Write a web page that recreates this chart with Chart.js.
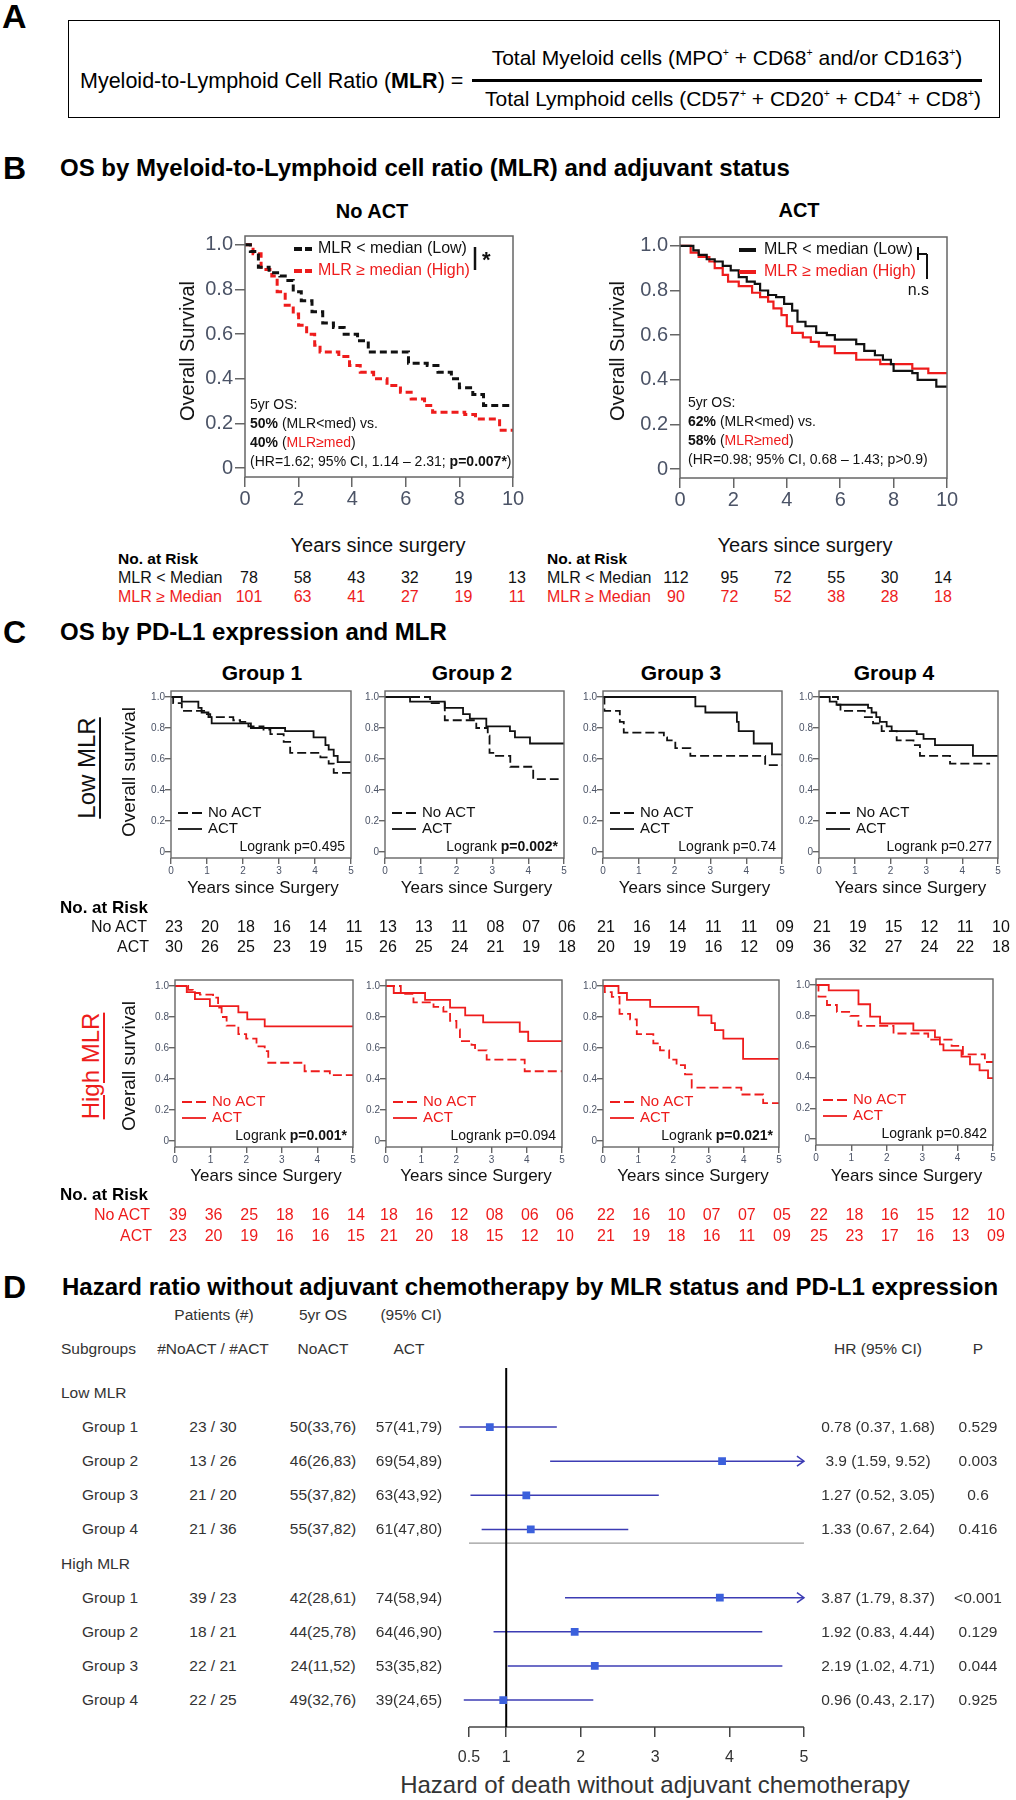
<!DOCTYPE html>
<html>
<head>
<meta charset="utf-8">
<title>MLR survival figure</title>
<script src="https://cdn.jsdelivr.net/npm/chart.js@4.4.1/dist/chart.umd.min.js"></script>
<style>
  body { margin: 0; background: #fff; }
  #page { position: relative; width: 1016px; height: 1800px; overflow: hidden; background: #fff;
          font-family: "Liberation Sans", Arial, Helvetica, sans-serif; color: #111; }
  .t { position: absolute; white-space: nowrap; line-height: 1; }
  #page canvas { position: absolute; }
  sup { font-size: 0.5em; vertical-align: 0; position: relative; top: -0.9em; }
</style>
</head>
<body>
<div id="page"></div>
<script>
// ---------- data ----------
const bYears = [0, 2, 4, 6, 8, 10];
const cYears = [0, 1, 2, 3, 4, 5];
const survTicks = [0, 0.2, 0.4, 0.6, 0.8, 1];
const hrTicks = [0.5, 1, 2, 3, 4, 5];

// panel B curves, [years, survival]
const bNoActLow = [[0,1],[0.2,0.97],[0.5,0.90],[0.9,0.875],[1.3,0.86],[1.6,0.84],[1.8,0.79],[2.1,0.75],[2.5,0.70],[2.9,0.65],[3.3,0.63],[3.7,0.60],[4.2,0.57],[4.6,0.52],[6.1,0.47],[6.8,0.46],[7.2,0.43],[7.7,0.40],[8.0,0.36],[8.5,0.33],[8.9,0.28],[10,0.28]];
const bNoActHigh = [[0,1],[0.3,0.96],[0.6,0.89],[1.0,0.86],[1.2,0.79],[1.5,0.73],[1.8,0.69],[2.0,0.64],[2.3,0.60],[2.6,0.55],[2.8,0.52],[3.5,0.50],[3.9,0.46],[4.3,0.43],[4.8,0.40],[5.3,0.37],[5.8,0.34],[6.2,0.31],[6.7,0.28],[7.0,0.25],[8.2,0.24],[8.6,0.22],[9.5,0.17],[10,0.17]];
const bActLow = [[0,1],[0.3,1],[0.5,0.98],[0.7,0.96],[1.0,0.94],[1.3,0.93],[1.6,0.91],[1.9,0.89],[2.2,0.86],[2.5,0.84],[2.8,0.83],[3.0,0.80],[3.3,0.78],[3.6,0.77],[3.9,0.74],[4.2,0.71],[4.4,0.66],[4.7,0.64],[5.1,0.61],[5.5,0.60],[5.8,0.58],[6.6,0.56],[6.9,0.53],[7.3,0.51],[7.6,0.49],[7.9,0.47],[8.0,0.44],[8.7,0.43],[8.9,0.40],[9.6,0.37],[10,0.37]];
const bActHigh = [[0,1],[0.4,0.97],[0.7,0.95],[1.1,0.93],[1.3,0.90],[1.6,0.87],[1.8,0.84],[2.2,0.82],[2.7,0.79],[3.0,0.77],[3.3,0.75],[3.5,0.72],[3.8,0.69],[4.0,0.64],[4.2,0.61],[4.6,0.59],[4.9,0.57],[5.2,0.55],[5.8,0.52],[6.6,0.49],[7.5,0.47],[8.7,0.45],[9.3,0.43],[10,0.43]];
const bRiskNoActLow = [78, 58, 43, 32, 19, 13];
const bRiskNoActHigh = [101, 63, 41, 27, 19, 11];
const bRiskActLow = [112, 95, 72, 55, 30, 14];
const bRiskActHigh = [90, 72, 52, 38, 28, 18];
const bNoteNoAct = [[['5yr OS:','']], [['50%','b'],[' (MLR<med) vs.','']], [['40%','b'],[' (',''],['MLR≥med','r'],[')','']], [['(HR=1.62; 95% CI, 1.14 – 2.31; ',''],['p=0.007*','b'],[')','']]];
const bNoteAct = [[['5yr OS:','']], [['62%','b'],[' (MLR<med) vs.','']], [['58%','b'],[' (',''],['MLR≥med','r'],[')','']], [['(HR=0.98; 95% CI, 0.68 – 1.43; p>0.9)','']]];

// panel C curves per group (1..4), [years, survival]
const cLowNoAct = [
  [[0,1],[0.06,0.96],[0.3,0.91],[0.95,0.89],[1.09,0.87],[1.73,0.85],[1.92,0.84],[2.15,0.81],[2.57,0.79],[2.76,0.76],[3.13,0.71],[3.31,0.64],[4.15,0.61],[4.38,0.57],[4.52,0.51],[5,0.51]],
  [[0,1],[1.26,0.96],[1.67,0.85],[2.55,0.80],[2.87,0.75],[2.92,0.64],[3.1,0.62],[3.5,0.55],[4.14,0.47],[4.85,0.47]],
  [[0,1],[0.04,0.91],[0.47,0.84],[0.58,0.77],[1.7,0.74],[1.79,0.72],[2.02,0.67],[2.44,0.62],[4.53,0.56],[5,0.56]],
  [[0,1],[0.53,0.95],[0.6,0.91],[1.28,0.87],[1.51,0.83],[1.75,0.78],[2.17,0.72],[2.64,0.69],[2.82,0.62],[3.66,0.57],[4.78,0.57]]
];
const cLowAct = [
  [[0,1],[0.3,0.97],[0.76,0.93],[0.85,0.90],[1.04,0.87],[1.13,0.83],[2.22,0.80],[3.17,0.78],[3.96,0.74],[4.29,0.69],[4.38,0.66],[4.52,0.62],[4.63,0.58],[5,0.58]],
  [[0,1],[0.7,0.97],[1.67,0.93],[2.18,0.89],[2.37,0.86],[2.83,0.81],[3.49,0.78],[3.63,0.74],[4.05,0.70],[5,0.70]],
  [[0,1],[2.58,0.94],[2.86,0.90],[3.74,0.84],[3.79,0.78],[4.21,0.70],[4.72,0.63],[5,0.63]],
  [[0,1],[0.3,0.97],[0.49,0.95],[1.37,0.93],[1.47,0.90],[1.6,0.87],[1.7,0.84],[1.89,0.81],[2.03,0.78],[2.73,0.76],[2.92,0.73],[3.24,0.69],[4.3,0.62],[5,0.62]]
];
const cHighNoAct = [
  [[0,1],[0.37,0.975],[0.5,0.955],[0.7,0.945],[1.07,0.925],[1.21,0.86],[1.31,0.80],[1.45,0.745],[1.78,0.69],[2.0,0.66],[2.29,0.61],[2.52,0.58],[2.62,0.505],[3.64,0.45],[4.35,0.425],[5,0.425]],
  [[0,1],[0.42,0.95],[0.78,0.895],[1.35,0.865],[1.63,0.835],[1.82,0.775],[2.0,0.72],[2.1,0.645],[2.43,0.62],[2.53,0.585],[2.86,0.525],[3.94,0.45],[5,0.45]],
  [[0,1],[0.05,0.96],[0.25,0.93],[0.47,0.82],[0.77,0.785],[0.96,0.69],[1.43,0.63],[1.62,0.585],[1.88,0.525],[2.09,0.49],[2.33,0.43],[2.52,0.345],[3.93,0.30],[4.55,0.245],[5,0.245]],
  [[0,1],[0.07,0.925],[0.31,0.87],[0.59,0.825],[0.97,0.80],[1.2,0.735],[2.19,0.685],[3.17,0.645],[3.83,0.605],[4.15,0.55],[4.77,0.50],[5,0.50]]
];
const cHighAct = [
  [[0,1],[0.33,0.96],[0.56,0.915],[0.98,0.87],[1.78,0.83],[2.03,0.785],[2.52,0.74],[5,0.74]],
  [[0,1],[0.22,0.955],[1.11,0.91],[1.82,0.86],[2.25,0.81],[2.76,0.765],[3.8,0.705],[4.04,0.645],[5,0.645]],
  [[0,1],[0.44,0.955],[0.68,0.91],[1.34,0.865],[2.71,0.81],[3.08,0.76],[3.18,0.715],[3.42,0.66],[3.98,0.53],[5,0.53]],
  [[0,1],[0.36,0.965],[1.2,0.875],[1.53,0.795],[1.81,0.75],[2.75,0.705],[3.36,0.66],[3.5,0.615],[3.6,0.575],[4.11,0.535],[4.35,0.485],[4.62,0.445],[4.86,0.395],[5,0.395]]
];
const cLowP = ['p=0.495', 'p=0.002*', 'p=0.74', 'p=0.277'];
const cHighP = ['p=0.001*', 'p=0.094', 'p=0.021*', 'p=0.842'];
const cRiskLowNoAct = [['23','20','18','16','14','11'], ['13','13','11','08','07','06'], ['21','16','14','11','11','09'], ['21','19','15','12','11','10']];
const cRiskLowAct = [['30','26','25','23','19','15'], ['26','25','24','21','19','18'], ['20','19','19','16','12','09'], ['36','32','27','24','22','18']];
const cRiskHighNoAct = [['39','36','25','18','16','14'], ['18','16','12','08','06','06'], ['22','16','10','07','07','05'], ['22','18','16','15','12','10']];
const cRiskHighAct = [['23','20','19','16','16','15'], ['21','20','18','15','12','10'], ['21','19','18','16','11','09'], ['25','23','17','16','13','09']];

// panel D forest plot
const dGroups = ['Group 1', 'Group 2', 'Group 3', 'Group 4'];
const dPatients = ['23 / 30', '13 / 26', '21 / 20', '21 / 36', '39 / 23', '18 / 21', '22 / 21', '22 / 25'];
const dOsNoAct = ['50(33,76)', '46(26,83)', '55(37,82)', '55(37,82)', '42(28,61)', '44(25,78)', '24(11,52)', '49(32,76)'];
const dOsAct = ['57(41,79)', '69(54,89)', '63(43,92)', '61(47,80)', '74(58,94)', '64(46,90)', '53(35,82)', '39(24,65)'];
const dHr = [0.78, 3.9, 1.27, 1.33, 3.87, 1.92, 2.19, 0.96];
const dLo = [0.37, 1.59, 0.52, 0.67, 1.79, 0.83, 1.02, 0.43];
const dHi = [1.68, 9.52, 3.05, 2.64, 8.37, 4.44, 4.71, 2.17];
const dP = ['0.529', '0.003', '0.6', '0.416', '<0.001', '0.129', '0.044', '0.925'];

// ---------- helpers ----------
const FONT = '"Liberation Sans", Arial, Helvetica, sans-serif';
const RED = '#ee1c1c', INK = '#111', TICK_TXT = '#4b5366';
Chart.defaults.font.family = FONT;
const page = document.getElementById('page');

function txt(x, y, html, css, anchor) {
  const d = document.createElement('div');
  d.className = 't';
  d.innerHTML = html;
  d.style.left = x + 'px';
  d.style.top = y + 'px';
  const tx = anchor === 'c' ? '-50%' : anchor === 'r' ? '-100%' : '0';
  d.style.transform = `translate(${tx},-50%)`;
  if (css) d.style.cssText += css;
  page.appendChild(d);
  return d;
}

function seg(ctx, x1, y1, x2, y2, color, w, dash) {
  ctx.save();
  ctx.beginPath();
  ctx.setLineDash(dash || []);
  ctx.strokeStyle = color;
  ctx.lineWidth = w;
  ctx.moveTo(x1, y1);
  ctx.lineTo(x2, y2);
  ctx.stroke();
  ctx.restore();
}

// parts: [text, style] with style containing 'b' (bold) and/or 'r' (red)
function runs(ctx, x, y, parts, size, color, align) {
  ctx.save();
  ctx.textBaseline = 'middle';
  ctx.textAlign = 'left';
  const fontOf = p => (p[1].includes('b') ? 'bold ' : '') + size + 'px ' + FONT;
  if (align === 'right') {
    let w = 0;
    for (const p of parts) { ctx.font = fontOf(p); w += ctx.measureText(p[0]).width; }
    x -= w;
  }
  for (const p of parts) {
    ctx.font = fontOf(p);
    ctx.fillStyle = p[1].includes('r') ? RED : color;
    ctx.fillText(p[0], x, y);
    x += ctx.measureText(p[0]).width;
  }
  ctx.restore();
}

// Kaplan-Meier panel; box = chart area in page pixels
function km(box, o, curves, deco) {
  const [bx, by, bw, bh] = box;
  const cv = document.createElement('canvas');
  const left = bx - o.yAxisW, top = by - o.padTop;
  cv.width = o.yAxisW + bw + o.padRight;
  cv.height = o.padTop + bh + o.xAxisH;
  cv.style.left = left + 'px';
  cv.style.top = top + 'px';
  page.appendChild(cv);
  const ext = o.padY / (bh - 2 * o.padY);
  const chart = new Chart(cv, {
    type: 'line',
    data: {
      datasets: curves.map(c => ({
        data: c.pts.map(p => ({ x: p[0], y: p[1] })),
        borderColor: c.color,
        borderWidth: c.width,
        borderDash: c.dash,
        stepped: true,
        pointRadius: 0,
        fill: false
      }))
    },
    options: {
      responsive: false,
      animation: false,
      events: [],
      layout: { padding: { left: 0, top: o.padTop, right: o.padRight, bottom: 0 } },
      plugins: { legend: { display: false }, tooltip: { enabled: false } },
      scales: {
        x: {
          type: 'linear',
          min: o.xTicks[0],
          max: o.xTicks[o.xTicks.length - 1],
          afterBuildTicks: s => { s.ticks = o.xTicks.map(v => ({ value: v })); },
          afterFit: s => { s.height = o.xAxisH; },
          border: { display: false },
          grid: { drawOnChartArea: false, tickLength: o.tickLen, color: o.frame, lineWidth: o.frameW },
          ticks: { color: TICK_TXT, font: { size: o.tickSize }, padding: o.xPad, maxRotation: 0, autoSkip: false,
                   callback: v => String(v) }
        },
        y: {
          type: 'linear',
          min: -ext,
          max: 1 + ext,
          afterBuildTicks: s => { s.ticks = survTicks.map(v => ({ value: v })); },
          afterFit: s => { s.width = o.yAxisW; },
          border: { display: false },
          grid: { drawOnChartArea: false, tickLength: o.tickLen, color: o.frame, lineWidth: o.frameW },
          ticks: { color: TICK_TXT, font: { size: o.tickSize }, padding: o.yPad,
                   callback: v => v === 0 ? '0' : v.toFixed(1) }
        }
      }
    },
    plugins: [{
      id: 'deco',
      afterDraw(ch) {
        const a = ch.chartArea, ctx = ch.ctx;
        ctx.save();
        ctx.strokeStyle = o.frame;
        ctx.lineWidth = o.frameW;
        ctx.strokeRect(a.left, a.top, a.right - a.left, a.bottom - a.top);
        ctx.restore();
        deco(ctx, a);
      }
    }]
  });
  return { chart, left, top, years: o.xTicks };
}

function riskRow(k, vals, y, dx, css) {
  vals.forEach((v, i) => {
    const x = k.left + k.chart.scales.x.getPixelForValue(k.years[i]) + dx;
    txt(x, y, String(v), css, 'c');
  });
}

// ---------- panel A ----------
txt(2, 16, 'A', 'font-weight:bold;font-size:34px;color:#000;');
const boxA = document.createElement('div');
boxA.style.cssText = 'position:absolute;left:68px;top:20px;width:932px;height:98px;border:1.5px solid #000;box-sizing:border-box;';
page.appendChild(boxA);
txt(80, 82, 'Myeloid-to-Lymphoid Cell Ratio (<b>MLR</b>) =', 'font-size:21.5px;color:#000;');
const barA = document.createElement('div');
barA.style.cssText = 'position:absolute;left:472px;top:79px;width:510px;height:2.5px;background:#000;';
page.appendChild(barA);
txt(727, 57, 'Total Myeloid cells (MPO<sup>+</sup> + CD68<sup>+</sup> and/or CD163<sup>+</sup>)', 'font-size:21px;color:#000;', 'c');
txt(733, 98, 'Total Lymphoid cells (CD57<sup>+</sup> + CD20<sup>+</sup> + CD4<sup>+</sup> + CD8<sup>+</sup>)', 'font-size:21px;color:#000;', 'c');

// ---------- panel B ----------
const H1 = 'font-weight:bold;font-size:24px;color:#000;';
txt(3, 168, 'B', 'font-weight:bold;font-size:32px;color:#000;');
txt(60, 168, 'OS by Myeloid-to-Lymphoid cell ratio (MLR) and adjuvant status', H1);

const bOpt = { xTicks: bYears, yAxisW: 65, xAxisH: 45, padTop: 10, padRight: 20, padY: 9, tickLen: 10,
               tickSize: 20, xPad: 0, yPad: 2, frame: '#666', frameW: 1.5 };

const bLeft = km([245, 232, 268, 245], bOpt, [
  { pts: bNoActLow, color: INK, width: 3, dash: [7, 4] },
  { pts: bNoActHigh, color: RED, width: 3, dash: [7, 4] }
], (ctx, a) => {
  const L = a.left, T = a.top;
  seg(ctx, L + 49, T + 13, L + 67, T + 13, INK, 4, [8, 3]);
  seg(ctx, L + 49, T + 35, L + 67, T + 35, RED, 4, [8, 3]);
  runs(ctx, L + 73, T + 13, [['MLR < median (Low)', '']], 16, INK);
  runs(ctx, L + 73, T + 35, [['MLR ≥ median (High)', 'r']], 16, INK);
  seg(ctx, L + 230, T + 11, L + 230, T + 34, INK, 2.5);
  runs(ctx, L + 237, T + 25, [['*', 'b']], 22, INK);
  bNoteNoAct.forEach((ln, i) => runs(ctx, L + 5, a.bottom - 72 + i * 19, ln, 14, INK));
});

const bRight = km([680, 233, 267, 245], bOpt, [
  { pts: bActLow, color: INK, width: 2.2, dash: [] },
  { pts: bActHigh, color: RED, width: 2.2, dash: [] }
], (ctx, a) => {
  const L = a.left, T = a.top;
  seg(ctx, L + 59, T + 13, L + 76, T + 13, INK, 4);
  seg(ctx, L + 59, T + 35, L + 76, T + 35, RED, 4);
  runs(ctx, L + 84, T + 13, [['MLR < median (Low)', '']], 16, INK);
  runs(ctx, L + 84, T + 35, [['MLR ≥ median (High)', 'r']], 16, INK);
  seg(ctx, L + 238, T + 10, L + 238, T + 23, INK, 2);
  seg(ctx, L + 238, T + 17, L + 247, T + 17, INK, 2);
  seg(ctx, L + 247, T + 17, L + 247, T + 42, INK, 2);
  runs(ctx, L + 249, T + 54, [['n.s', '']], 16, INK, 'right');
  bNoteAct.forEach((ln, i) => runs(ctx, L + 8, a.bottom - 75 + i * 19, ln, 14, INK));
});

txt(372, 211, 'No ACT', 'font-weight:bold;font-size:20px;color:#000;', 'c');
txt(799, 210, 'ACT', 'font-weight:bold;font-size:20px;color:#000;', 'c');
txt(187, 351, 'Overall Survival', 'font-size:20px;color:#111;transform:translate(-50%,-50%) rotate(-90deg);', 'c');
txt(617, 351, 'Overall Survival', 'font-size:20px;color:#111;transform:translate(-50%,-50%) rotate(-90deg);', 'c');
txt(378, 545, 'Years since surgery', 'font-size:20px;color:#111;', 'c');
txt(805, 545, 'Years since surgery', 'font-size:20px;color:#111;', 'c');

const riskB = 'font-size:16px;color:#111;';
const riskBR = 'font-size:16px;color:' + RED + ';';
[[bLeft, 118, bRiskNoActLow, bRiskNoActHigh, 4], [bRight, 547, bRiskActLow, bRiskActHigh, -4]].forEach(([k, lx, lo, hi, dx]) => {
  txt(lx, 559, 'No. at Risk', 'font-weight:bold;font-size:15.5px;color:#000;');
  txt(lx, 578, 'MLR &lt; Median', riskB);
  txt(lx, 597, 'MLR ≥ Median', riskBR);
  riskRow(k, lo, 578, dx, riskB);
  riskRow(k, hi, 597, dx, riskBR);
});

// ---------- panel C ----------
txt(3, 632, 'C', 'font-weight:bold;font-size:32px;color:#000;');
txt(60, 632, 'OS by PD-L1 expression and MLR', H1);

const cOpt = { xTicks: cYears, yAxisW: 40, xAxisH: 24, padTop: 8, padRight: 6, padY: 6, tickLen: 6,
               tickSize: 10, xPad: 1, yPad: 0, frame: '#666', frameW: 1.4 };
const lowBoxes = [[171, 691, 180, 167], [385, 691, 179, 167], [603, 691, 179, 167], [819, 691, 179, 167]];
const highBoxes = [[175, 980, 178, 167], [386, 980, 176, 167], [603, 980, 176, 167], [816, 979, 177, 166]];
const titleX = [262, 472, 681, 894];

function cDeco(color, p) {
  return (ctx, a) => {
    seg(ctx, a.left + 7, a.bottom - 45, a.left + 31, a.bottom - 45, color, 1.8, [10, 4]);
    seg(ctx, a.left + 7, a.bottom - 29, a.left + 31, a.bottom - 29, color, 1.8);
    runs(ctx, a.left + 37, a.bottom - 45, [['No ACT', '']], 15, color);
    runs(ctx, a.left + 37, a.bottom - 29, [['ACT', '']], 15, color);
    runs(ctx, a.right - 6, a.bottom - 11, [['Logrank ', ''], [p, p.includes('*') ? 'b' : '']], 14, INK, 'right');
  };
}

const riskC = 'font-size:16px;color:#111;';
const riskCR = 'font-size:16px;color:' + RED + ';';
[0, 1, 2, 3].forEach(g => {
  txt(titleX[g], 672, dGroups[g], 'font-weight:bold;font-size:21px;color:#000;', 'c');

  const lb = lowBoxes[g];
  const kl = km(lb, cOpt, [
    { pts: cLowNoAct[g], color: INK, width: 1.8, dash: [9, 4] },
    { pts: cLowAct[g], color: INK, width: 1.8, dash: [] }
  ], cDeco(INK, cLowP[g]));
  txt(lb[0] + lb[2] / 2 + 2, 887, 'Years since Surgery', 'font-size:17px;color:#111;', 'c');
  riskRow(kl, cRiskLowNoAct[g], 927, 3, riskC);
  riskRow(kl, cRiskLowAct[g], 947, 3, riskC);

  const hb = highBoxes[g];
  const kh = km(hb, cOpt, [
    { pts: cHighNoAct[g], color: RED, width: 1.8, dash: [9, 4] },
    { pts: cHighAct[g], color: RED, width: 1.8, dash: [] }
  ], cDeco(RED, cHighP[g]));
  txt(hb[0] + hb[2] / 2 + 2, 1175, 'Years since Surgery', 'font-size:17px;color:#111;', 'c');
  riskRow(kh, cRiskHighNoAct[g], 1215, 3, riskCR);
  riskRow(kh, cRiskHighAct[g], 1236, 3, riskCR);
});

const rot = 'transform:translate(-50%,-50%) rotate(-90deg);';
txt(128, 772, 'Overall survival', 'font-size:19px;color:#111;' + rot, 'c');
txt(128, 1066, 'Overall survival', 'font-size:19px;color:#111;' + rot, 'c');
txt(87, 768, 'Low MLR', 'font-size:24px;color:#111;text-decoration:underline;text-decoration-thickness:2px;text-underline-offset:4px;' + rot, 'c');
txt(91, 1066, 'High MLR', 'font-size:24px;color:' + RED + ';text-decoration:underline;text-decoration-thickness:2px;text-underline-offset:4px;' + rot, 'c');

txt(60, 907, 'No. at Risk', 'font-weight:bold;font-size:17px;color:#000;');
txt(147, 927, 'No ACT', riskC, 'r');
txt(149, 947, 'ACT', riskC, 'r');
txt(60, 1194, 'No. at Risk', 'font-weight:bold;font-size:17px;color:#000;');
txt(150, 1215, 'No ACT', riskCR, 'r');
txt(152, 1236, 'ACT', riskCR, 'r');

// ---------- panel D ----------
txt(3, 1287, 'D', 'font-weight:bold;font-size:32px;color:#000;');
txt(62, 1287, 'Hazard ratio without adjuvant chemotherapy by MLR status and PD-L1 expression', H1);

const rowOf = i => (i < 4 ? i + 1 : i + 2);
const dLeft = 440, dTop = 1360;
const dCv = document.createElement('canvas');
dCv.width = 390;
dCv.height = 409;
dCv.style.left = dLeft + 'px';
dCv.style.top = dTop + 'px';
page.appendChild(dCv);

const dChart = new Chart(dCv, {
  type: 'scatter',
  data: {
    datasets: [{
      data: dHr.map((v, i) => ({ x: v, y: rowOf(i) })),
      pointStyle: 'rect',
      pointRadius: 5.5,
      backgroundColor: '#3b60dc',
      borderWidth: 0
    }]
  },
  options: {
    responsive: false,
    animation: false,
    events: [],
    layout: { padding: { left: 14.1, right: 18.6, top: 8, bottom: 0 } },
    plugins: { legend: { display: false }, tooltip: { enabled: false } },
    scales: {
      x: {
        type: 'linear', min: 0.3, max: 5.1,
        afterBuildTicks: s => { s.ticks = hrTicks.map(v => ({ value: v })); },
        afterFit: s => { s.height = 42; },
        border: { display: false },
        grid: { drawOnChartArea: false, tickLength: 10, color: '#444', lineWidth: 1.5 },
        ticks: { color: '#333', font: { size: 16 }, padding: 11, maxRotation: 0, autoSkip: false, callback: v => String(v) }
      },
      y: { type: 'linear', display: false, reverse: true, min: -0.73, max: 9.79 }
    }
  },
  plugins: [{
    id: 'forest',
    beforeDatasetsDraw(ch) {
      const x = ch.scales.x, y = ch.scales.y, a = ch.chartArea, ctx = ch.ctx;
      const x05 = x.getPixelForValue(0.5), x5 = x.getPixelForValue(5);
      seg(ctx, x05, y.getPixelForValue(4.4), x5, y.getPixelForValue(4.4), '#9a9a9a', 1.2);
      seg(ctx, x05, a.bottom, x5, a.bottom, '#444', 1.5);
      dHr.forEach((v, i) => {
        const py = y.getPixelForValue(rowOf(i));
        const xr = x.getPixelForValue(Math.min(dHi[i], 5));
        seg(ctx, x.getPixelForValue(dLo[i]), py, xr, py, '#3c3cb4', 1.5);
        if (dHi[i] > 5) {
          ctx.save();
          ctx.strokeStyle = '#3c3cb4';
          ctx.lineWidth = 1.5;
          ctx.beginPath();
          ctx.moveTo(xr - 7, py - 5);
          ctx.lineTo(xr, py);
          ctx.lineTo(xr - 7, py + 5);
          ctx.stroke();
          ctx.restore();
        }
      });
      const x1 = x.getPixelForValue(1);
      seg(ctx, x1, a.top, x1, a.bottom, '#000', 2);
    }
  }]
});

const DT = 'font-size:15.5px;color:#333;';
txt(214, 1315, 'Patients (#)', DT, 'c');
txt(323, 1315, '5yr OS', DT, 'c');
txt(411, 1315, '(95% CI)', DT, 'c');
txt(61, 1349, 'Subgroups', DT);
txt(213, 1349, '#NoACT / #ACT', DT, 'c');
txt(323, 1349, 'NoACT', DT, 'c');
txt(409, 1349, 'ACT', DT, 'c');
txt(878, 1349, 'HR (95% CI)', DT, 'c');
txt(978, 1349, 'P', DT, 'c');

const rowY = r => dTop + dChart.scales.y.getPixelForValue(r);
txt(61, rowY(0), 'Low MLR', DT);
txt(61, rowY(5), 'High MLR', DT);
dHr.forEach((v, i) => {
  const y = rowY(rowOf(i));
  txt(82, y, dGroups[i % 4], DT);
  txt(213, y, dPatients[i], DT, 'c');
  txt(323, y, dOsNoAct[i], DT, 'c');
  txt(409, y, dOsAct[i], DT, 'c');
  txt(878, y, `${v} (${dLo[i]}, ${dHi[i]})`, DT, 'c');
  txt(978, y, dP[i].replace('<', '&lt;'), DT, 'c');
});
txt(655, 1785, 'Hazard of death without adjuvant chemotherapy', 'font-size:24px;color:#333;', 'c');
</script>
</body>
</html>
